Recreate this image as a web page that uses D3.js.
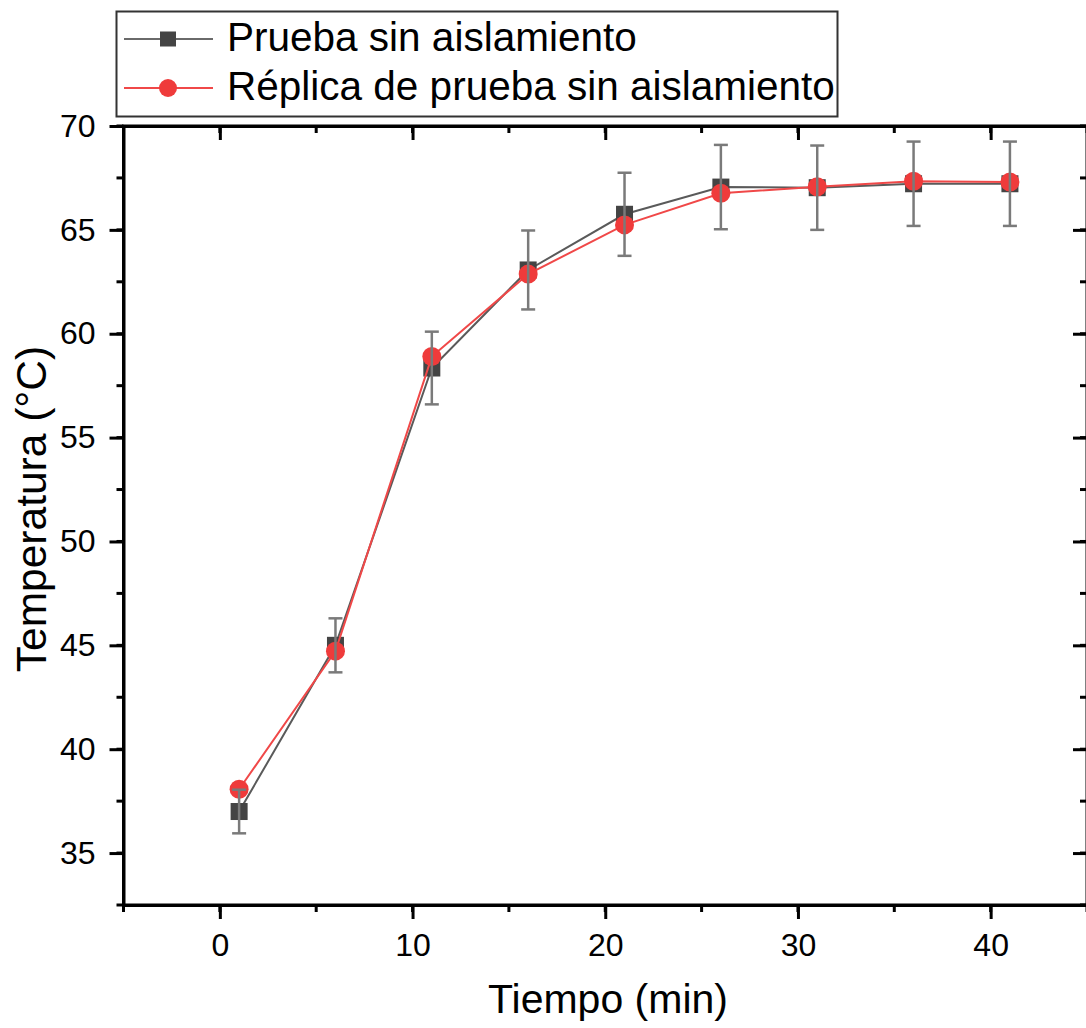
<!DOCTYPE html>
<html>
<head>
<meta charset="utf-8">
<script src="https://cdn.jsdelivr.net/npm/d3@7"></script>
<style>
  body { margin: 0; background: #fff; }
  svg { display: block; font-family: Arial, "Liberation Sans", sans-serif; }
</style>
</head>
<body>
<div id="chart"></div>
<script>
// Temperature vs time, two runs without insulation

const tiempo = [1, 6, 11, 16, 21, 26, 31, 36, 41];
const prueba = [37.0, 45.0, 58.35, 63.07, 65.75, 67.06, 67.03, 67.22, 67.22];
const pruebaErr = [1.05, 1.3, 1.75, 1.9, 2.0, 2.03, 2.03, 2.03, 2.03];
const replica = [38.07, 44.72, 58.9, 62.87, 65.24, 66.76, 67.08, 67.34, 67.3];
const seriesNames = ['Prueba sin aislamiento', 'Réplica de prueba sin aislamiento'];
const xTicks = [0, 10, 20, 30, 40];
const yTicks = [35, 40, 45, 50, 55, 60, 65, 70];

const width = 1086;
const height = 1028;
const plot = { left: 123.5, right: 1087, top: 126, bottom: 905 };

const svg = d3.select('#chart')
  .append('svg')
  .attr('width', width)
  .attr('height', height);

const x = d3.scaleLinear().domain([-5, 45]).range([plot.left, plot.right]);
const y = d3.scaleLinear().domain([32.5, 70]).range([plot.bottom, plot.top]);

const minorX = d3.range(-5, 46, 5);
const minorY = d3.range(32.5, 70.1, 2.5);

// axes: outward ticks with labels on bottom/left, inward ticks on top/right
function styleAxis(g) {
  g.select('.domain').attr('stroke', '#000').attr('stroke-width', 3);
  g.selectAll('.tick line').attr('stroke', '#000').attr('stroke-width', 3);
  g.selectAll('.tick text').attr('fill', '#000').style('font-size', '32px');
}

function minorTicks(g, vals, scale, orient, len) {
  g.selectAll('line.minor')
    .data(vals)
    .enter().append('line')
    .attr('class', 'minor')
    .attr('stroke', '#000')
    .attr('stroke-width', 3)
    .attr('x1', d => orient === 'h' ? scale(d) : 0)
    .attr('x2', d => orient === 'h' ? scale(d) : len)
    .attr('y1', d => orient === 'h' ? 0 : scale(d))
    .attr('y2', d => orient === 'h' ? len : scale(d));
}

const axisBottomG = svg.append('g')
  .attr('transform', `translate(0,${plot.bottom})`)
  .call(d3.axisBottom(x).tickValues(xTicks).tickSize(14).tickSizeOuter(0).tickPadding(14));
styleAxis(axisBottomG);
minorTicks(axisBottomG, minorX, x, 'h', 7);

const axisTopG = svg.append('g')
  .attr('transform', `translate(0,${plot.top})`)
  .call(d3.axisBottom(x).tickValues(xTicks).tickSize(14).tickSizeOuter(0).tickFormat(''));
styleAxis(axisTopG);
minorTicks(axisTopG, minorX, x, 'h', 7);

const axisLeftG = svg.append('g')
  .attr('transform', `translate(${plot.left},0)`)
  .call(d3.axisLeft(y).tickValues(yTicks).tickSize(14).tickSizeOuter(0).tickPadding(14));
styleAxis(axisLeftG);
minorTicks(axisLeftG, minorY, y, 'v', -7);

const axisRightG = svg.append('g')
  .attr('transform', `translate(${plot.right},0)`)
  .call(d3.axisLeft(y).tickValues(yTicks).tickSize(14).tickSizeOuter(0).tickFormat(''));
styleAxis(axisRightG);
minorTicks(axisRightG, minorY, y, 'v', -7);

// close the frame so corners look solid
svg.append('rect')
  .attr('x', plot.left).attr('y', plot.top)
  .attr('width', plot.right - plot.left).attr('height', plot.bottom - plot.top)
  .attr('fill', 'none').attr('stroke', '#000').attr('stroke-width', 3);

// series
const blackData = tiempo.map((t, i) => ({ t, v: prueba[i], e: pruebaErr[i] }));
const redData = tiempo.map((t, i) => ({ t, v: replica[i] }));

const line = d3.line().x(d => x(d.t)).y(d => y(d.v));

svg.append('path')
  .datum(blackData)
  .attr('d', line)
  .attr('fill', 'none')
  .attr('stroke', '#5a5a5a')
  .attr('stroke-width', 2);

svg.append('g')
  .selectAll('rect')
  .data(blackData)
  .enter().append('rect')
  .attr('x', d => x(d.t) - 8.5)
  .attr('y', d => y(d.v) - 8.5)
  .attr('width', 17)
  .attr('height', 17)
  .attr('fill', '#444');

svg.append('path')
  .datum(redData)
  .attr('d', line)
  .attr('fill', 'none')
  .attr('stroke', '#f04848')
  .attr('stroke-width', 2);

svg.append('g')
  .selectAll('circle')
  .data(redData)
  .enter().append('circle')
  .attr('cx', d => x(d.t))
  .attr('cy', d => y(d.v))
  .attr('r', 9.5)
  .attr('fill', '#ef3b3b');

// error bars of the first run, drawn on top
const err = svg.append('g')
  .attr('stroke', '#7a7a7a')
  .attr('stroke-width', 2.5);

blackData.forEach(d => {
  const cx = x(d.t);
  const y1 = y(d.v + d.e);
  const y0 = y(d.v - d.e);
  err.append('line').attr('x1', cx).attr('x2', cx).attr('y1', y1).attr('y2', y0);
  err.append('line').attr('x1', cx - 7).attr('x2', cx + 7).attr('y1', y1).attr('y2', y1);
  err.append('line').attr('x1', cx - 7).attr('x2', cx + 7).attr('y1', y0).attr('y2', y0);
});

// axis titles
svg.append('text')
  .attr('x', 608)
  .attr('y', 1013)
  .attr('text-anchor', 'middle')
  .style('font-size', '41px')
  .text('Tiempo (min)');

svg.append('text')
  .attr('transform', 'translate(46,509) rotate(-90)')
  .attr('text-anchor', 'middle')
  .style('font-size', '42.5px')
  .text('Temperatura (°C)');

// legend
const legend = svg.append('g');
legend.append('rect')
  .attr('x', 116.5).attr('y', 11.5)
  .attr('width', 721).attr('height', 105)
  .attr('fill', '#fff')
  .attr('stroke', '#333')
  .attr('stroke-width', 2);

const rows = [
  { name: seriesNames[0], color: '#6a6a6a', fill: '#444', shape: 'square', cy: 39 },
  { name: seriesNames[1], color: '#f04848', fill: '#ef3b3b', shape: 'circle', cy: 88 }
];

rows.forEach(r => {
  legend.append('line')
    .attr('x1', 124).attr('x2', 213)
    .attr('y1', r.cy).attr('y2', r.cy)
    .attr('stroke', r.color).attr('stroke-width', 2);
  if (r.shape === 'square') {
    legend.append('rect')
      .attr('x', 160).attr('y', r.cy - 7.5)
      .attr('width', 16).attr('height', 15)
      .attr('fill', r.fill);
  } else {
    legend.append('circle')
      .attr('cx', 168).attr('cy', r.cy).attr('r', 9)
      .attr('fill', r.fill);
  }
  legend.append('text')
    .attr('x', 227)
    .attr('y', r.cy + 12)
    .style('font-size', '40.5px')
    .text(r.name);
});
</script>
</body>
</html>
